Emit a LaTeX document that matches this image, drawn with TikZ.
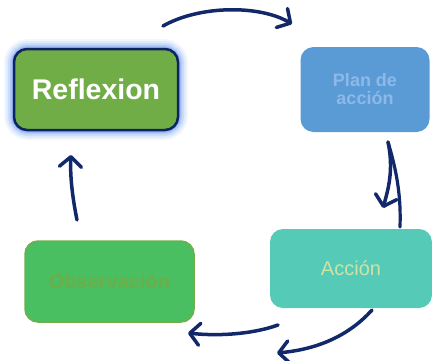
\documentclass[tikz,border=0pt]{standalone}
\usepackage{fontspec}
\setmainfont{Liberation Sans}
\usetikzlibrary{arrows.meta}
\definecolor{navy}{HTML}{11296A}
\definecolor{reffill}{HTML}{70AD47}
\definecolor{refborder}{HTML}{0E2462}
\definecolor{glow}{HTML}{7FA8F2}
\definecolor{planfill}{HTML}{5B9BD5}
\definecolor{plantext}{HTML}{8DB9E9}
\definecolor{accfill}{HTML}{55CBB7}
\definecolor{acctext}{HTML}{CDE3A6}
\definecolor{obsfill}{HTML}{4ABF62}
\definecolor{obsborder}{HTML}{72AD4A}
\definecolor{obstext}{HTML}{6BAE4A}
\tikzset{
  stagebox/.style={rectangle, rounded corners=13pt, align=center, inner sep=0pt},
  cyclearrow/.style={draw=navy, line width=3.5pt, line cap=round, line join=round,
    -{Straight Barb[length=10pt,width=22pt,round]}},
  cycleline/.style={draw=navy, line width=3.2pt, line cap=round}
}
\begin{document}
\begin{tikzpicture}[x=1pt,y=-1pt]
\useasboundingbox (0,0) rectangle (432,360);
% glow behind Reflexion
\foreach \w/\o in {20/0.10,16/0.15,12/0.22,8/0.35,5/0.6}{
  \draw[glow, line width=\w pt, opacity=\o, rounded corners=14pt] (14,49) rectangle (178,130);
}
\node[stagebox, fill=reffill, draw=refborder, line width=2.5pt, minimum width=164pt, minimum height=81pt,
  text=white, font=\bfseries\fontsize{28.5}{30}\selectfont] (refl) at (96,89.5) {Reflexion};
\node[stagebox, fill=planfill, minimum width=129pt, minimum height=85pt,
  text=plantext, font=\bfseries\fontsize{18}{18}\selectfont] (plan) at (365,89.5) {Plan de\\acción};
\node[stagebox, fill=accfill, minimum width=162pt, minimum height=79pt,
  text=acctext, font=\fontsize{20}{22}\selectfont] (acc) at (351,268.5) {Acción};
\node[stagebox, fill=obsfill, draw=obsborder, line width=1.5pt, minimum width=169pt, minimum height=81pt,
  text=obstext, font=\bfseries\fontsize{20}{22}\selectfont] (obs) at (109.5,281.5) {Observación};
% arrow end points
\coordinate (a1s) at (163,26);
\coordinate (a1e) at (292,24);
\coordinate (a2s) at (388,142);
\coordinate (a2e) at (383,208);
\coordinate (a2l) at (400,227);
\coordinate (a3s) at (372,310);
\coordinate (a3e) at (277,353);
\coordinate (a4s) at (278,325);
\coordinate (a4e) at (188,333);
\coordinate (a5s) at (77,220);
\coordinate (a5e) at (71,155);
\draw[cyclearrow] (a1s) .. controls (200,5) and (260,5) .. (a1e);
\draw[cycleline] (a2s) .. controls (398,175) and (401,200) .. (a2l);
\draw[cyclearrow] (a2s) .. controls (394,170) and (388,190) .. (a2e);
\draw[cyclearrow] (a3s) .. controls (345,340) and (310,350) .. (a3e);
\draw[cyclearrow] (a4s) .. controls (250,335) and (215,336) .. (a4e);
\draw[cyclearrow] (a5s) .. controls (72,195) and (70,175) .. (a5e);
\end{tikzpicture}
\end{document}
